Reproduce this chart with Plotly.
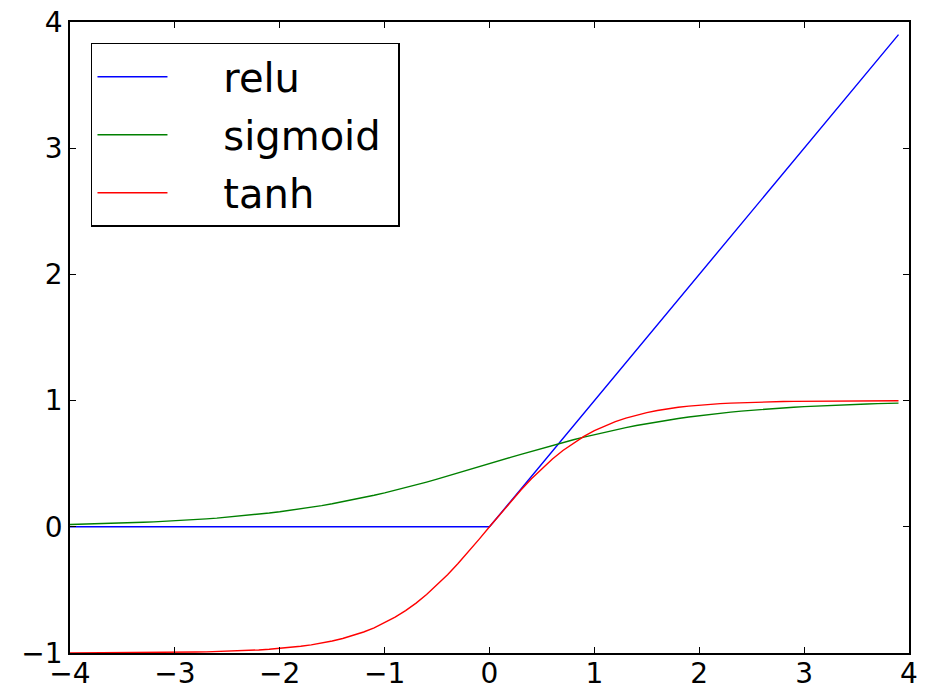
import plotly.graph_objects as go

x_vals = [-4.0, -3.9, -3.8, -3.7, -3.6, -3.5, -3.4, -3.3, -3.2, -3.1,
          -3.0, -2.9, -2.8, -2.7, -2.6, -2.5, -2.4, -2.3, -2.2, -2.1,
          -2.0, -1.9, -1.8, -1.7, -1.6, -1.5, -1.4, -1.3, -1.2, -1.1,
          -1.0, -0.9, -0.8, -0.7, -0.6, -0.5, -0.4, -0.3, -0.2, -0.1,
          0.0, 0.1, 0.2, 0.3, 0.4, 0.5, 0.6, 0.7, 0.8, 0.9,
          1.0, 1.1, 1.2, 1.3, 1.4, 1.5, 1.6, 1.7, 1.8, 1.9,
          2.0, 2.1, 2.2, 2.3, 2.4, 2.5, 2.6, 2.7, 2.8, 2.9,
          3.0, 3.1, 3.2, 3.3, 3.4, 3.5, 3.6, 3.7, 3.8, 3.9]

relu_vals = [0.0] * 40 + [0.0, 0.1, 0.2, 0.3, 0.4, 0.5, 0.6, 0.7, 0.8, 0.9,
                          1.0, 1.1, 1.2, 1.3, 1.4, 1.5, 1.6, 1.7, 1.8, 1.9,
                          2.0, 2.1, 2.2, 2.3, 2.4, 2.5, 2.6, 2.7, 2.8, 2.9,
                          3.0, 3.1, 3.2, 3.3, 3.4, 3.5, 3.6, 3.7, 3.8, 3.9]

sigmoid_vals = [0.0180, 0.0198, 0.0219, 0.0241, 0.0266, 0.0293, 0.0323, 0.0356, 0.0392, 0.0431,
                0.0474, 0.0522, 0.0573, 0.0630, 0.0691, 0.0759, 0.0832, 0.0911, 0.0998, 0.1091,
                0.1192, 0.1301, 0.1419, 0.1545, 0.1680, 0.1824, 0.1978, 0.2142, 0.2315, 0.2497,
                0.2689, 0.2891, 0.3100, 0.3318, 0.3543, 0.3775, 0.4013, 0.4256, 0.4502, 0.4750,
                0.5000, 0.5250, 0.5498, 0.5744, 0.5987, 0.6225, 0.6457, 0.6682, 0.6900, 0.7109,
                0.7311, 0.7503, 0.7685, 0.7858, 0.8022, 0.8176, 0.8320, 0.8455, 0.8581, 0.8699,
                0.8808, 0.8909, 0.9002, 0.9089, 0.9168, 0.9241, 0.9309, 0.9370, 0.9427, 0.9478,
                0.9526, 0.9569, 0.9608, 0.9644, 0.9677, 0.9707, 0.9734, 0.9759, 0.9781, 0.9802]

tanh_vals = [-0.9993, -0.9992, -0.9990, -0.9988, -0.9985, -0.9982, -0.9978, -0.9973, -0.9967, -0.9959,
             -0.9951, -0.9940, -0.9926, -0.9910, -0.9890, -0.9866, -0.9837, -0.9801, -0.9757, -0.9705,
             -0.9640, -0.9562, -0.9468, -0.9354, -0.9217, -0.9051, -0.8854, -0.8617, -0.8337, -0.8005,
             -0.7616, -0.7163, -0.6640, -0.6044, -0.5370, -0.4621, -0.3799, -0.2913, -0.1974, -0.0997,
             0.0, 0.0997, 0.1974, 0.2913, 0.3799, 0.4621, 0.5370, 0.6044, 0.6640, 0.7163,
             0.7616, 0.8005, 0.8337, 0.8617, 0.8854, 0.9051, 0.9217, 0.9354, 0.9468, 0.9562,
             0.9640, 0.9705, 0.9757, 0.9801, 0.9837, 0.9866, 0.9890, 0.9910, 0.9926, 0.9940,
             0.9951, 0.9959, 0.9967, 0.9973, 0.9978, 0.9982, 0.9985, 0.9988, 0.9990, 0.9992]

x_ticks = [-4, -3, -2, -1, 0, 1, 2, 3, 4]
y_ticks = [-1, 0, 1, 2, 3, 4]

series_names = ["relu", "sigmoid", "tanh"]
series_values = [relu_vals, sigmoid_vals, tanh_vals]
series_colors = ["#0000ff", "#008000", "#ff0000"]

PAD = "\u00a0" * 4

fig = go.Figure()
for name, vals, color in zip(series_names, series_values, series_colors):
    fig.add_trace(go.Scatter(x=x_vals, y=vals, mode="lines", name=PAD + name + "\u00a0",
                             legendgroup=name,
                             line=dict(color=color, width=1.4)))

axis_common = dict(showgrid=False, zeroline=False, showline=True, linecolor="black",
                   linewidth=1.5, mirror="ticks", ticks="inside", ticklen=6,
                   tickwidth=1, tickcolor="black", automargin=False,
                   ticklabeloverflow="allow",
                   tickfont=dict(family="DejaVu Sans", size=28, color="black"))

fig.update_xaxes(range=[-4, 4], tickvals=x_ticks, ticklabelstandoff=-5, **axis_common)
fig.update_yaxes(range=[-1, 4], tickvals=y_ticks, ticklabelstandoff=0, **axis_common)

fig.update_layout(
    width=924, height=681,
    margin=dict(l=62, r=23, t=14, b=36),
    plot_bgcolor="white", paper_bgcolor="white",
    font=dict(family="DejaVu Sans", color="black"),
    legend=dict(x=0.025, y=0.967, xanchor="left", yanchor="top",
                bordercolor="black", borderwidth=1.5, bgcolor="white",
                font=dict(family="DejaVu Sans", size=40, color="black"),
                itemwidth=70, tracegroupgap=3),
    showlegend=True,
)

fig.write_html("out.html")
